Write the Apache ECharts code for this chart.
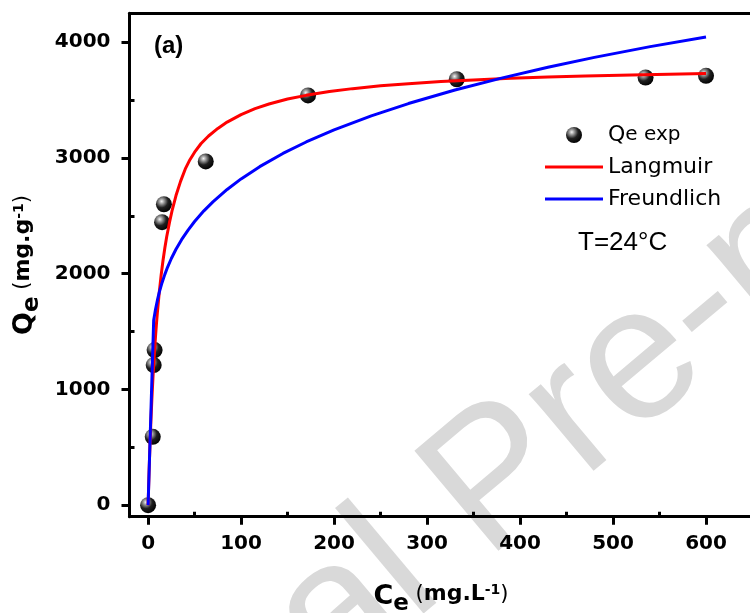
<!DOCTYPE html>
<html>
<head>
<meta charset="utf-8">
<title>Adsorption isotherm (a)</title>
<script src="https://cdn.jsdelivr.net/npm/echarts@6/dist/echarts.min.js"></script>
<style>
  html, body { margin: 0; padding: 0; background: #fff; }
  #chart { width: 750px; height: 613px; }
</style>
</head>
<body>
<div id="chart"></div>
<script>
// Experimental equilibrium points: Ce (mg/L), Qe (mg/g)
const expCe = [0, 5, 6, 7, 15, 17, 62, 172, 332, 535, 600];
const expQe = [0, 590, 1210, 1340, 2445, 2600, 2970, 3540, 3680, 3695, 3710];

// Langmuir fitted curve
const langCe = [0, 1, 2, 3, 4, 5, 6, 7, 8, 9, 10, 12, 14, 16, 18, 20, 23, 26, 30, 35, 40, 45, 50, 57, 65, 75, 85, 100, 115, 130, 150, 170, 195, 220, 250, 280, 315, 350, 390, 430, 470, 520, 560, 600];
const langQe = [0, 275, 513, 721, 904, 1066, 1212, 1343, 1461, 1568, 1666, 1839, 1986, 2112, 2222, 2319, 2443, 2552, 2675, 2800, 2905, 2985, 3050, 3125, 3190, 3255, 3310, 3375, 3426, 3466, 3509, 3541, 3574, 3599, 3623, 3642, 3660, 3674, 3688, 3699, 3708, 3717, 3724, 3730];

// Freundlich fitted curve
const freuCe = [0, 6, 8, 10, 12, 15, 18, 21, 25, 30, 36, 43, 50, 60, 70, 85, 100, 120, 145, 170, 200, 240, 280, 330, 380, 430, 480, 540, 600];
const freuQe = [0, 1597, 1693, 1771, 1838, 1922, 1994, 2057, 2131, 2211, 2294, 2377, 2451, 2543, 2623, 2728, 2819, 2925, 3039, 3138, 3242, 3364, 3470, 3587, 3690, 3784, 3869, 3962, 4045];

// Axis ticks
const xMajor = [0, 100, 200, 300, 400, 500, 600];
const xMinor = [50, 150, 250, 350, 450, 550];
const yMajor = [0, 1000, 2000, 3000, 4000];
const yMinor = [500, 1500, 2500, 3500];

const seriesNames = ['Qe exp', 'Langmuir', 'Freundlich'];

const pair = (xs, ys) => xs.map((x, i) => [x, ys[i]]);

const sphere = {
  type: 'radial', x: 0.36, y: 0.32, r: 0.72,
  colorStops: [
    { offset: 0, color: '#f4f4f4' },
    { offset: 0.22, color: '#9a9a9a' },
    { offset: 0.55, color: '#202020' },
    { offset: 1, color: '#000000' }
  ]
};

const tickFont = { fontFamily: 'DejaVu Sans', fontWeight: 'bold', fontSize: 20, color: '#000' };

const nameRich = {
  q:   { fontFamily: 'DejaVu Sans', fontWeight: 'bold', fontSize: 27, lineHeight: 30, verticalAlign: 'top', color: '#000' },
  sub: { fontFamily: 'DejaVu Sans', fontWeight: 'bold', fontSize: 23, lineHeight: 32, verticalAlign: 'bottom', color: '#000' },
  p:   { fontFamily: 'DejaVu Sans', fontWeight: 'normal', fontSize: 21, lineHeight: 30, verticalAlign: 'top', color: '#000' },
  u:   { fontFamily: 'DejaVu Sans', fontWeight: 'bold', fontSize: 22, lineHeight: 30, verticalAlign: 'top', color: '#000' },
  sup: { fontFamily: 'DejaVu Sans', fontWeight: 'bold', fontSize: 14, lineHeight: 18, verticalAlign: 'top', color: '#000' }
};

const chart = echarts.init(document.getElementById('chart'), null, { renderer: 'canvas' });

const lineW = 3;
const black = '#000';
const plainNum = (v) => String(v);

chart.setOption({
  backgroundColor: '#fff',
  animation: false,
  grid: { left: 129.5, right: -2.5, top: 13.3, bottom: 96.3, containLabel: false, outerBoundsMode: 'none' },
  xAxis: [
    {
      type: 'value', min: -20, max: 650, position: 'bottom',
      splitLine: { show: false },
      axisLine: { show: true, onZero: false, lineStyle: { color: black, width: lineW } },
      axisTick: { show: true, inside: false, length: 8, customValues: xMajor, lineStyle: { color: black, width: lineW } },
      axisLabel: { show: true, margin: 17, customValues: xMajor, formatter: plainNum, ...tickFont },
      name: '{q|C}{sub|e}{p| (}{u|mg.L}{sup|-1}{p|)}',
      nameLocation: 'middle', nameGap: 67,
      nameTextStyle: { rich: nameRich }
    },
    {
      type: 'value', min: -20, max: 650, position: 'bottom',
      splitLine: { show: false },
      axisLine: { show: false, onZero: false },
      axisTick: { show: true, inside: true, length: 5, customValues: xMinor, lineStyle: { color: black, width: lineW } },
      axisLabel: { show: false }
    },
    {
      type: 'value', min: -20, max: 650, position: 'top',
      splitLine: { show: false },
      axisLine: { show: true, onZero: false, lineStyle: { color: black, width: lineW } },
      axisTick: { show: false },
      axisLabel: { show: false }
    }
  ],
  yAxis: [
    {
      type: 'value', min: -100, max: 4250, position: 'left',
      splitLine: { show: false },
      axisLine: { show: true, onZero: false, lineStyle: { color: black, width: lineW } },
      axisTick: { show: true, inside: false, length: 8, customValues: yMajor, lineStyle: { color: black, width: lineW } },
      axisLabel: { show: true, margin: 19, customValues: yMajor, formatter: plainNum, ...tickFont },
      name: '{q|Q}{sub|e}{p| (}{u|mg.g}{sup|-1}{p|)}',
      nameLocation: 'middle', nameGap: 82, nameRotate: 90,
      nameTextStyle: { rich: nameRich }
    },
    {
      type: 'value', min: -100, max: 4250, position: 'left',
      splitLine: { show: false },
      axisLine: { show: false, onZero: false },
      axisTick: { show: true, inside: true, length: 5, customValues: yMinor, lineStyle: { color: black, width: lineW } },
      axisLabel: { show: false }
    }
  ],
  legend: {
    orient: 'vertical',
    left: 540, top: 119,
    itemWidth: 58, itemHeight: 16, itemGap: 10,
    selectedMode: false,
    symbolKeepAspect: true,
    data: [
      { name: seriesNames[0], icon: 'circle' },
      { name: seriesNames[1], icon: 'path://M0,0H58V3H0Z' },
      { name: seriesNames[2], icon: 'path://M0,0H58V3H0Z' }
    ],
    formatter: (n) => n === seriesNames[0] ? '{q|Q}{s|e exp}' : '{s2|' + n + '}',
    textStyle: {
      color: '#000',
      rich: {
        q:  { fontFamily: 'DejaVu Sans', fontSize: 22, lineHeight: 22, color: '#000' },
        s:  { fontFamily: 'DejaVu Sans', fontSize: 20, lineHeight: 22, color: '#000' },
        s2: { fontFamily: 'DejaVu Sans', fontSize: 22, lineHeight: 22, color: '#000' }
      }
    }
  },
  graphic: {
    elements: [
      {
        // diagonal watermark
        type: 'text', z: -10, silent: true,
        x: -65, y: 955, rotation: 40 * Math.PI / 180,
        style: {
          text: 'Journal Pre-proof',
          font: 'normal 190px "Liberation Sans", Arial, sans-serif',
          fill: '#d9d9d9',
          textAlign: 'left', textVerticalAlign: 'middle'
        }
      },
      {
        type: 'text', z: 100, silent: true,
        left: 154, top: 34,
        style: {
          text: '(a)',
          font: 'bold 24px "Liberation Sans", Arial, sans-serif',
          fill: '#000'
        }
      },
      {
        type: 'text', z: 100, silent: true,
        x: 578, y: 243,
        style: {
          text: 'T=24°C',
          font: 'normal 26px "Liberation Sans", Arial, sans-serif',
          fill: '#000',
          textAlign: 'left', textVerticalAlign: 'middle'
        }
      }
    ]
  },
  series: [
    {
      name: seriesNames[0], type: 'scatter', z: 3,
      xAxisIndex: 0, yAxisIndex: 0,
      data: pair(expCe, expQe),
      symbol: 'circle', symbolSize: 16,
      itemStyle: { color: sphere, opacity: 1 }
    },
    {
      name: seriesNames[1], type: 'line', z: 4,
      xAxisIndex: 0, yAxisIndex: 0,
      data: pair(langCe, langQe),
      showSymbol: false, smooth: false,
      lineStyle: { color: '#ff0000', width: 3, join: 'round' },
      itemStyle: { color: '#ff0000' }
    },
    {
      name: seriesNames[2], type: 'line', z: 5,
      xAxisIndex: 0, yAxisIndex: 0,
      data: pair(freuCe, freuQe),
      showSymbol: false, smooth: false,
      lineStyle: { color: '#0000ff', width: 3, join: 'round' },
      itemStyle: { color: '#0000ff' }
    }
  ]
});
</script>
</body>
</html>
